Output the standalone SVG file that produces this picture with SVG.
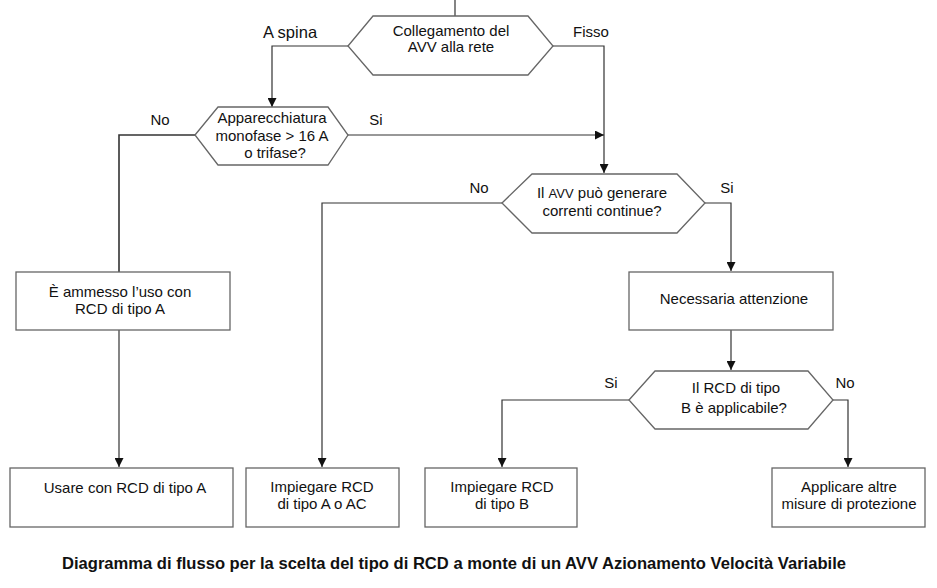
<svg xmlns="http://www.w3.org/2000/svg" width="937" height="588" viewBox="0 0 937 588">
<style>
.shape{fill:#fff;stroke:#666;stroke-width:1.3}
.conn{fill:none;stroke:#333;stroke-width:1.2}
.t{font-family:"Liberation Sans",Arial,sans-serif;font-size:15px;fill:#111;text-anchor:middle}
.lbl{font-family:"Liberation Sans",Arial,sans-serif;font-size:15px;fill:#111;text-anchor:middle}
.cap{font-family:"Liberation Sans",Arial,sans-serif;font-size:16.5px;font-weight:bold;fill:#111}
</style>
<defs>
<marker id="arr" markerUnits="userSpaceOnUse" markerWidth="9" markerHeight="9" refX="9" refY="4.5" orient="auto">
<path d="M0,0 L9,4.5 L0,9 z" fill="#111"/>
</marker>
</defs>
<rect width="937" height="588" fill="#fff"/>
<g id="connectors">
<path class="conn" d="M455,0 V16"/>
<path class="conn" d="M348,46 H272 V107" marker-end="url(#arr)"/>
<path class="conn" d="M553,46 H604 V173" marker-end="url(#arr)"/>
<path class="conn" d="M348,135 H604" marker-end="url(#arr)"/>
<path class="conn" d="M195,135 H119 V272" style="stroke-width:1.6"/>
<path class="conn" d="M119,330 V467" marker-end="url(#arr)"/>
<path class="conn" d="M502,203 H322 V467" marker-end="url(#arr)"/>
<path class="conn" d="M705,203 H731 V271" marker-end="url(#arr)"/>
<path class="conn" d="M731,330 V370" marker-end="url(#arr)"/>
<path class="conn" d="M629,400 H502 V467" marker-end="url(#arr)"/>
<path class="conn" d="M833,400 H848 V467" marker-end="url(#arr)"/>
</g>
<g id="labels">
<text class="lbl" x="290" y="38" style="font-size:16.5px">A spina</text>
<text class="lbl" x="591" y="37">Fisso</text>
<text class="lbl" x="160" y="125">No</text>
<text class="lbl" x="376" y="125">Si</text>
<text class="lbl" x="479" y="193">No</text>
<text class="lbl" x="727" y="193">Si</text>
<text class="lbl" x="611" y="388">Si</text>
<text class="lbl" x="845" y="388">No</text>
</g>
<g id="n_collegamento">
<polygon class="shape" points="348,46 373,16 528,16 553,46 528,75 373,75"/>
<text class="t" x="451" y="36">Collegamento del</text>
<text class="t" x="451" y="52">AVV alla rete</text>
</g>
<g id="n_apparecchiatura">
<polygon class="shape" points="195,135 218,107 328,107 348,135 328,165 218,165"/>
<text class="t" x="272" y="123">Apparecchiatura</text>
<text class="t" x="272" y="141">monofase &gt; 16 A</text>
<text class="t" x="275" y="158">o trifase?</text>
</g>
<g id="n_ammesso">
<rect class="shape" x="16" y="272" width="214" height="58"/>
<text class="t" x="120" y="297">È ammesso l’uso con</text>
<text class="t" x="120" y="314">RCD  di tipo A</text>
</g>
<g id="n_avv">
<polygon class="shape" points="502,203 532,174 677,174 705,203 677,233 532,233"/>
<text class="t" x="602" y="198">Il <tspan style="font-size:13px">AVV</tspan> può generare</text>
<text class="t" x="602" y="216">correnti continue?</text>
</g>
<g id="n_necessaria">
<rect class="shape" x="629" y="272" width="204" height="58"/>
<text class="t" x="734" y="304">Necessaria attenzione</text>
</g>
<g id="n_rcdb">
<polygon class="shape" points="629,400 655,371 808,371 833,400 808,429 655,429"/>
<text class="t" x="736" y="393">Il RCD  di tipo</text>
<text class="t" x="734" y="413">B è applicabile?</text>
</g>
<g id="n_usare">
<rect class="shape" x="10" y="468" width="223" height="59"/>
<text class="t" x="125" y="493">Usare con RCD di tipo A</text>
</g>
<g id="n_impiegare_a">
<rect class="shape" x="246" y="468" width="153" height="59"/>
<text class="t" x="322" y="492">Impiegare RCD</text>
<text class="t" x="322" y="509">di tipo A o AC</text>
</g>
<g id="n_impiegare_b">
<rect class="shape" x="425" y="468" width="152" height="59"/>
<text class="t" x="502" y="492">Impiegare RCD</text>
<text class="t" x="502" y="509">di tipo B</text>
</g>
<g id="n_altre">
<rect class="shape" x="772" y="468" width="153" height="59"/>
<text class="t" x="849" y="492">Applicare altre</text>
<text class="t" x="849" y="509">misure di protezione</text>
</g>
<text class="cap" x="62" y="569" textLength="784" lengthAdjust="spacingAndGlyphs">Diagramma di flusso per la scelta del tipo di RCD a monte di un AVV Azionamento Velocità Variabile</text>
</svg>
